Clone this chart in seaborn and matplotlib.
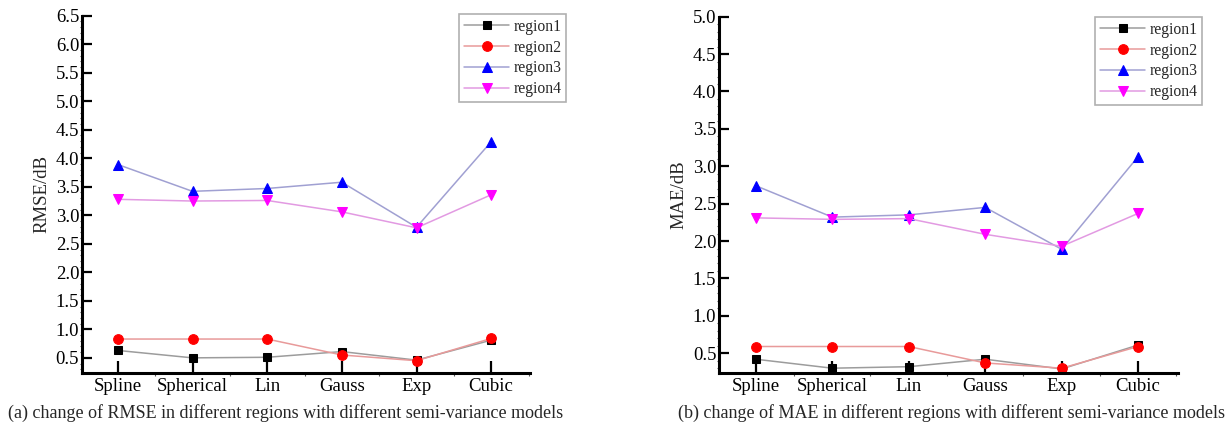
import numpy as np
import pandas as pd
import matplotlib
matplotlib.use("Agg")
import matplotlib.pyplot as plt
import seaborn as sns
from matplotlib.ticker import MultipleLocator, FixedLocator

# ---------------- data ----------------
models = ["Spline", "Spherical", "Lin", "Gauss", "Exp", "Cubic"]
regions = ["region1", "region2", "region3", "region4"]

rmse_region1 = [0.63, 0.50, 0.51, 0.61, 0.46, 0.81]
rmse_region2 = [0.83, 0.83, 0.83, 0.55, 0.45, 0.84]
rmse_region3 = [3.89, 3.42, 3.47, 3.58, 2.79, 4.29]
rmse_region4 = [3.28, 3.25, 3.26, 3.06, 2.78, 3.36]

mae_region1 = [0.42, 0.30, 0.32, 0.42, 0.29, 0.61]
mae_region2 = [0.59, 0.59, 0.59, 0.37, 0.30, 0.59]
mae_region3 = [2.74, 2.32, 2.35, 2.45, 1.89, 3.13]
mae_region4 = [2.31, 2.29, 2.30, 2.09, 1.93, 2.37]

rmse_ticks = [0.5, 1.0, 1.5, 2.0, 2.5, 3.0, 3.5, 4.0, 4.5, 5.0, 5.5, 6.0, 6.5]
mae_ticks = [0.5, 1.0, 1.5, 2.0, 2.5, 3.0, 3.5, 4.0, 4.5, 5.0]

caption_a = "(a) change of RMSE in different regions with different semi-variance models"
caption_b = "(b) change of MAE in different regions with different semi-variance models"

# ---------------- style ----------------
sns.set_theme(style="ticks")
plt.rcParams["font.family"] = ["Liberation Serif", "DejaVu Serif"]

line_colors = ["#9c9c9c", "#e89a9a", "#a0a0d2", "#e29ae2"]
marker_colors = ["#000000", "#ff0000", "#0000ff", "#ff00ff"]
markers = ["s", "o", "^", "v"]
msizes = [6, 7, 7.5, 7.5]

fig = plt.figure(figsize=(12.26, 4.30), dpi=100)
ax1 = fig.add_axes([0.0669, 0.1333, 0.4323 - 0.0669, 0.9635 - 0.1333])
ax2 = fig.add_axes([0.5865, 0.1333, 0.9608 - 0.5865, 0.9612 - 0.1333])


def draw(ax, series, ylim, yticks, ylabel, legend_anchor):
    for i, vals in enumerate(series):
        sns.lineplot(x=models, y=vals, ax=ax, sort=False, color=line_colors[i],
                     linewidth=1.1, marker=markers[i], markersize=msizes[i],
                     markerfacecolor=marker_colors[i], markeredgecolor=marker_colors[i],
                     label=regions[i], legend=False)
    ax.set_xlim(-0.48, 5.52)
    ax.set_ylim(*ylim)
    ax.set_yticks(yticks)
    ax.set_yticklabels([f"{t:.1f}" for t in yticks])
    ax.yaxis.set_minor_locator(MultipleLocator(0.1))
    ax.xaxis.set_minor_locator(FixedLocator([0.5, 1.5, 2.5, 3.5, 4.5, 5.5]))
    for s in ["top", "right"]:
        ax.spines[s].set_visible(False)
    for s in ["left", "bottom"]:
        ax.spines[s].set_linewidth(2.2)
        ax.spines[s].set_color("black")
    ax.tick_params(axis="y", which="major", direction="in", length=7, width=1.6,
                   labelsize=13.5, pad=2, colors="black")
    ax.tick_params(axis="y", which="minor", direction="out", length=1.5, width=0.8, colors="#555555")
    ax.tick_params(axis="x", which="major", direction="in", length=9, width=1.6,
                   labelsize=13.5, pad=4, colors="black")
    ax.tick_params(axis="x", which="minor", direction="out", length=2.5, width=0.8, colors="#555555")
    ax.set_xlabel("")
    ax.set_ylabel(ylabel, fontsize=13.5, labelpad=4)
    ax.grid(False)
    ax.set_facecolor("white")
    handles, labels = ax.get_legend_handles_labels()
    leg = ax.legend(handles, labels, loc="upper right", bbox_to_anchor=legend_anchor,
                    bbox_transform=fig.transFigure, fontsize=11.3, frameon=True,
                    fancybox=False, edgecolor="#b0b0b0", framealpha=1,
                    handlelength=2.9, handletextpad=0.25, labelspacing=0.3,
                    borderpad=0.3, borderaxespad=0)
    leg.get_frame().set_linewidth(1.2)


draw(ax1, [rmse_region1, rmse_region2, rmse_region3, rmse_region4],
     (0.24, 6.5), rmse_ticks, "RMSE/dB", (0.4617, 0.967))
draw(ax2, [mae_region1, mae_region2, mae_region3, mae_region4],
     (0.24, 5.0), mae_ticks, "MAE/dB", (0.9805, 0.960))

fig.text(286 / 1226, 1 - 413 / 430, caption_a, ha="center", va="center", fontsize=13)
fig.text(951 / 1226, 1 - 413 / 430, caption_b, ha="center", va="center", fontsize=13)

fig.savefig("out.png", dpi=100, facecolor="white")
